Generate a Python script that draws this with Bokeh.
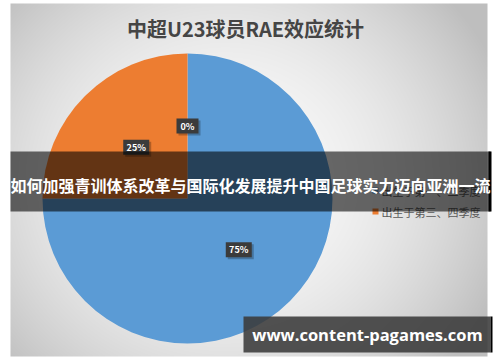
import numpy as np
from bokeh.plotting import figure
from bokeh.models import ColumnDataSource, Range1d
from bokeh.core.properties import value
from bokeh.embed import file_html
from bokeh.resources import INLINE

# ---- data ----
title = "中超U23球员RAE效应统计"
categories = ["出生于第一、二季度", "出生于第三、四季度", ""]
shares = [75, 25, 0]
colors = ["#5b9bd5", "#ed7d31", "#a5a5a5"]
banner_text = "如何加强青训体系改革与国际化发展提升中国足球实力迈向亚洲一流"
watermark = "www.content-pagames.com"

W, H = 500, 362
FONT = "Noto Sans CJK SC"

p = figure(width=W, height=H, x_range=Range1d(0, W), y_range=Range1d(0, H),
           output_backend="svg", toolbar_location=None, min_border=0)
p.axis.visible = False
p.grid.visible = False
p.outline_line_color = None
p.background_fill_color = "white"
p.border_fill_color = "white"

def Y(y):
    return H - y

# panel with soft radial gradient
px0, px1, py0, py1 = 10, 487, 3, 356
pw, ph = px1 - px0, py1 - py0
yy, xx = np.mgrid[0:ph, 0:pw]
cx, cy = pw * 0.45, ph * 0.5
d = np.sqrt(((xx - cx) / (pw * 0.6)) ** 2 + ((yy - cy) / (ph * 0.75)) ** 2)
g = np.clip(250 - 55 * d ** 2, 190, 250).astype(np.uint32)
img = np.empty((ph, pw), dtype=np.uint32)
view = img.view(dtype=np.uint8).reshape((ph, pw, 4))
view[:, :, 0] = g
view[:, :, 1] = g
view[:, :, 2] = g
view[:, :, 3] = 255
p.image_rgba(image=[img[::-1]], x=px0, y=Y(py1), dw=pw, dh=ph)

# title
p.text(x=[245], y=[Y(28)], text=[title], text_font=value(FONT), text_font_size="20px",
       text_font_style="bold", text_color="#454545", text_align="center", text_baseline="middle")

# pie
pcx, pcy, r = 187, Y(198), 145
tot = float(sum(shares))
fr = np.array(shares) / tot
cum = np.concatenate([[0], np.cumsum(fr)])
start_cw = np.pi / 2 - cum[:-1] * 2 * np.pi
end_cw = np.pi / 2 - cum[1:] * 2 * np.pi
nz = [i for i, s in enumerate(shares) if s > 0]
src = ColumnDataSource(dict(start=end_cw[nz], end=start_cw[nz],
                            color=[colors[i] for i in nz]))
p.wedge(x=pcx, y=pcy, radius=r, start_angle="start", end_angle="end",
        fill_color="color", line_color=None, source=src)

# data labels
mid = (start_cw + end_cw) / 2
lr = 0.5 * r
lx = pcx + lr * np.cos(mid)
ly = pcy + lr * np.sin(mid)
labels = [f"{s}%" for s in shares]
bw = [22 if s < 10 else 26 for s in shares]
p.rect(x=lx + 2, y=ly - 2, width=bw, height=15, fill_color="black", fill_alpha=0.25, line_color=None)
p.rect(x=lx, y=ly, width=bw, height=15, fill_color="#3b3b3b", line_color=None)
p.text(x=lx, y=ly, text=labels, text_font=value(FONT), text_font_size="9px",
       text_font_style="bold", text_color="white", text_align="center", text_baseline="middle")

# legend
leg_y = [Y(190), Y(211)]
p.rect(x=[375, 375], y=leg_y, width=6, height=6, fill_color=colors[:2], line_color=None)
p.text(x=[381, 381], y=leg_y, text=categories[:2], text_font=value(FONT), text_font_size="11px",
       text_color="#595959", text_align="left", text_baseline="middle")

# banner overlay
p.quad(left=10, right=490, bottom=Y(211), top=Y(151), fill_color="black", fill_alpha=0.58, line_color=None)
p.quad(left=488, right=491, bottom=Y(211), top=Y(151), fill_color="black", line_color=None)
p.text(x=[250], y=[Y(184)], text=[banner_text], text_font=value(FONT), text_font_size="16px",
       text_font_style="bold", text_color="white", text_align="center", text_baseline="middle")

# watermark box
p.quad(left=243, right=490, bottom=Y(352), top=Y(316), fill_color="#3a3a3a", fill_alpha=0.88, line_color=None)
p.quad(left=490, right=492, bottom=Y(352), top=Y(316), fill_color="black", line_color=None)
p.text(x=[367], y=[Y(334)], text=[watermark], text_font=value("Open Sans"), text_font_size="16.5px",
       text_font_style="bold", text_color="white", text_align="center", text_baseline="middle")

open("out.html", "w").write(file_html(p, INLINE))
